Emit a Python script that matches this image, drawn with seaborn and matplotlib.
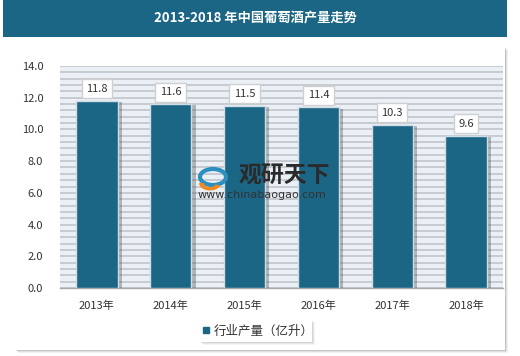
import matplotlib
matplotlib.use("Agg")
import matplotlib.pyplot as plt
import matplotlib.patheffects as pe
from matplotlib.patches import Rectangle, Ellipse, Wedge
import seaborn as sns
import pandas as pd
import numpy as np

years = ["2013年", "2014年", "2015年", "2016年", "2017年", "2018年"]
output = [11.8, 11.6, 11.5, 11.4, 10.3, 9.6]
series_name = "行业产量（亿升）"
title = "2013-2018 年中国葡萄酒产量走势"
yticks = [0, 2, 4, 6, 8, 10, 12, 14]

sns.set_theme(style="white")
plt.rcParams['font.family'] = ['Noto Sans CJK SC', 'DejaVu Sans']

W, H = 520, 356
fig = plt.figure(figsize=(W / 100, H / 100), dpi=100)
fig.patch.set_facecolor("white")

def fx(x): return x / W
def fy(y): return 1 - y / H

# title bar
fig.patches.append(Rectangle((fx(3), fy(37)), fx(504), 37 / H, transform=fig.transFigure,
                             facecolor="#1b6585", edgecolor="none", zorder=0))
fig.text(fx(255), fy(18), title, ha="center", va="center", color="white",
         fontsize=9.5, fontweight="bold")

# panel shadow
for i, a in enumerate([0.05, 0.08, 0.12]):
    o = 3 - i
    fig.patches.append(Rectangle((fx(15 + o), fy(350 + o)), fx(490), 303 / H, transform=fig.transFigure,
                                 facecolor="black", alpha=a, edgecolor="none", zorder=0))
fig.patches.append(Rectangle((fx(15), fy(350)), fx(490), 303 / H, transform=fig.transFigure,
                             facecolor="white", edgecolor="none", zorder=0))

ax = fig.add_axes([fx(60), fy(288), fx(443), (288 - 66) / H])
ax.set_zorder(3)
ax.set_facecolor("#eaf0f6")

df = pd.DataFrame({"year": years, "value": output})
sns.barplot(data=df, x="year", y="value", color="#1b6585", width=0.56,
            edgecolor="#cfdce6", linewidth=1.0, saturation=1, ax=ax, zorder=3)

for p in ax.patches:
    p.set_path_effects([pe.SimplePatchShadow(offset=(3, -1), shadow_rgbFace="#444444", alpha=0.35),
                        pe.Normal()])

ax.set_ylim(0, 14)
ax.set_yticks(yticks)
ax.set_yticklabels([f"{v:.1f}" for v in yticks], fontsize=8, color="#333333")
ax.set_yticks(np.arange(0, 14.01, 0.4), minor=True)
ax.yaxis.grid(True, which="both", color="#bfc5cb", linewidth=1.2)
ax.xaxis.grid(False)
ax.set_axisbelow(True)
ax.tick_params(axis="both", which="both", length=0)
ax.tick_params(axis="y", pad=12)
ax.tick_params(axis="x", pad=9)
ax.set_xticks(range(len(years)))
ax.set_xticklabels(years, fontsize=8, color="#333333")
ax.set_xlabel("")
ax.set_ylabel("")
for s in ["left", "right", "top"]:
    ax.spines[s].set_visible(False)
ax.spines["bottom"].set_color("#a8a8a8")
ax.spines["bottom"].set_linewidth(1.0)
ax.set_xlim(-0.5, len(years) - 0.5)

ax.bar_label(ax.containers[0], labels=[f"{v:.1f}" for v in output], padding=5, fontsize=8,
             color="#333333",
             bbox=dict(boxstyle="square,pad=0.4", facecolor="white", edgecolor="#d0d0d0", linewidth=1))

# watermark
fig.text(fx(239), fy(176), "观研天下", fontsize=16.5, fontweight="bold", color="#2a2a2a",
         ha="left", va="center", zorder=10)
fig.text(fx(262), fy(195), "www.chinabaogao.com", fontsize=8, color="#333333",
         ha="center", va="center", zorder=10, family=["DejaVu Sans"])
fig.patches.append(Ellipse((fx(213), fy(177)), fx(26), 16 / H, transform=fig.transFigure,
                           facecolor="none", edgecolor="#2b8fc0", linewidth=3, zorder=10))
fig.patches.append(Wedge((fx(210), fy(183)), fx(11), 180, 340, transform=fig.transFigure,
                         width=fx(5), facecolor="#f08a20", edgecolor="none", zorder=10))

# legend
for i, a in enumerate([0.04, 0.06, 0.08]):
    o = 3 - i
    fig.patches.append(Rectangle((fx(200 + o), fy(342 + o)), fx(112), 22 / H, transform=fig.transFigure,
                                 facecolor="black", alpha=a, edgecolor="none", zorder=4))
fig.patches.append(Rectangle((fx(200), fy(342)), fx(112), 22 / H, transform=fig.transFigure,
                             facecolor="white", edgecolor="none", zorder=4))
handle = plt.Line2D([], [], marker="s", linestyle="none", markersize=4.5, color="#1b6585")
leg = fig.legend([handle], [series_name], loc="center", bbox_to_anchor=(fx(257), fy(331)),
                 frameon=False, fontsize=9, handletextpad=0.2, handlelength=0.8)
leg.set_zorder(6)
for t in leg.get_texts():
    t.set_color("#333333")

fig.savefig("out.png", dpi=100)
